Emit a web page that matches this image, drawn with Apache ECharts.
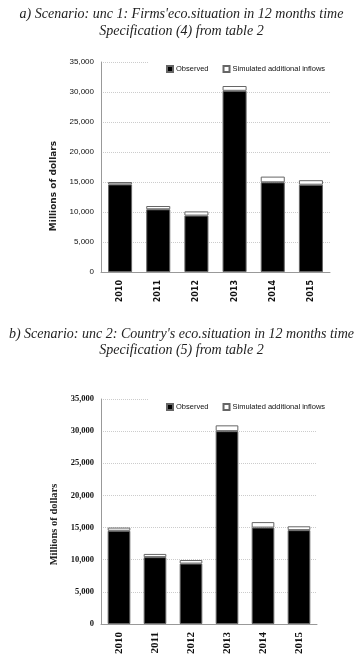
<!DOCTYPE html>
<html>
<head>
<meta charset="utf-8">
<script src="https://cdn.jsdelivr.net/npm/echarts@6/dist/echarts.min.js"></script>
<style>
  html, body { margin: 0; padding: 0; background: #fff; }
  #chart { width: 363px; height: 662px; }
</style>
</head>
<body>
<div id="chart"></div>
<script>
const years = ['2010', '2011', '2012', '2013', '2014', '2015']

// panel a) unc 1: Firms' eco. situation
const observedA = [14600, 10450, 9400, 30200, 14950, 14550]
const simulatedA = [400, 550, 700, 800, 950, 750]

// panel b) unc 2: Country's eco. situation
const observedB = [14500, 10400, 9400, 30000, 15000, 14600]
const simulatedB = [500, 500, 550, 900, 850, 600]

const titleA = 'a) Scenario: unc 1: Firms\'eco.situation in 12 months time\nSpecification (4) from table 2'
const titleB = 'b) Scenario: unc 2: Country\'s eco.situation in 12 months time\nSpecification (5) from table 2'

const sans = "'Liberation Sans', Arial, sans-serif"
const serif = "'Liberation Serif', 'DejaVu Serif', serif"
const fmt = v => v.toLocaleString('en-US')

const chart = echarts.init(document.getElementById('chart'))

// y axis; namePad pushes the rotated name down a bit like in the original
function yAxisOf(gridIndex, o) {
  return {
    gridIndex, type: 'value', min: 0, max: 35000, interval: 5000,
    name: 'Millions of dollars', nameLocation: 'middle', nameGap: o.nameGap,
    nameTextStyle: { fontFamily: o.nameFont, fontWeight: 'bold', fontSize: o.nameSize, color: '#222', padding: [0, o.namePad, 0, 0] },
    axisLine: { show: true, lineStyle: { color: '#999' } },
    axisTick: { show: false },
    axisLabel: { fontFamily: o.font, fontWeight: o.weight, fontSize: o.size, color: '#111', margin: 7, formatter: fmt },
    splitLine: { lineStyle: { color: '#ccc', type: 'dotted' } }
  }
}

function xAxisOf(gridIndex, font, size) {
  return {
    gridIndex, type: 'category', data: years,
    axisLine: { lineStyle: { color: '#999' } },
    axisTick: { show: false },
    axisLabel: { rotate: 90, fontFamily: font, fontWeight: 'bold', fontSize: size, color: '#111', margin: 8 }
  }
}

function legendOf(top) {
  return {
    top, left: 148,
    padding: [5, 6, 5, 18],
    backgroundColor: '#fff',
    icon: 'rect', itemWidth: 6, itemHeight: 6, itemGap: 14,
    textStyle: { fontFamily: sans, fontSize: 7.5, color: '#111', padding: [0, 0, 0, -2] },
    data: ['Observed', 'Simulated additional inflows']
  }
}

function barsOf(idx, obs, sim) {
  return [
    {
      name: 'Observed', type: 'bar', stack: 's' + idx, xAxisIndex: idx, yAxisIndex: idx,
      barWidth: '63%', data: obs,
      itemStyle: { color: '#000', borderColor: '#666', borderWidth: 1 }
    },
    {
      name: 'Simulated additional inflows', type: 'bar', stack: 's' + idx, xAxisIndex: idx, yAxisIndex: idx,
      barWidth: '63%', data: sim,
      itemStyle: { color: '#fff', borderColor: '#666', borderWidth: 1 }
    }
  ]
}

const titleStyle = { fontFamily: serif, fontStyle: 'italic', fontWeight: 'normal', fontSize: 14, color: '#222', align: 'center' }

chart.setOption({
  backgroundColor: '#fff',
  animation: false,
  title: [
    { text: titleA, left: 'center', top: 1, textStyle: { ...titleStyle, lineHeight: 17 } },
    { text: titleB, left: 'center', top: 321, textStyle: { ...titleStyle, lineHeight: 16 } }
  ],
  legend: [legendOf(60), legendOf(398)],
  grid: [
    { left: 101, top: 62, width: 229, height: 210 },
    { left: 101, top: 399, width: 216, height: 225 }
  ],
  xAxis: [xAxisOf(0, "'DejaVu Sans', sans-serif", 8), xAxisOf(1, serif, 11)],
  yAxis: [
    yAxisOf(0, { font: sans, weight: 'normal', size: 8, nameFont: "'DejaVu Sans', sans-serif", nameSize: 9, nameGap: 31, namePad: 38 }),
    yAxisOf(1, { font: serif, weight: 'bold', size: 8.5, nameFont: serif, nameSize: 10.5, nameGap: 31, namePad: 26 })
  ],
  series: [...barsOf(0, observedA, simulatedA), ...barsOf(1, observedB, simulatedB)]
})
</script>
</body>
</html>
